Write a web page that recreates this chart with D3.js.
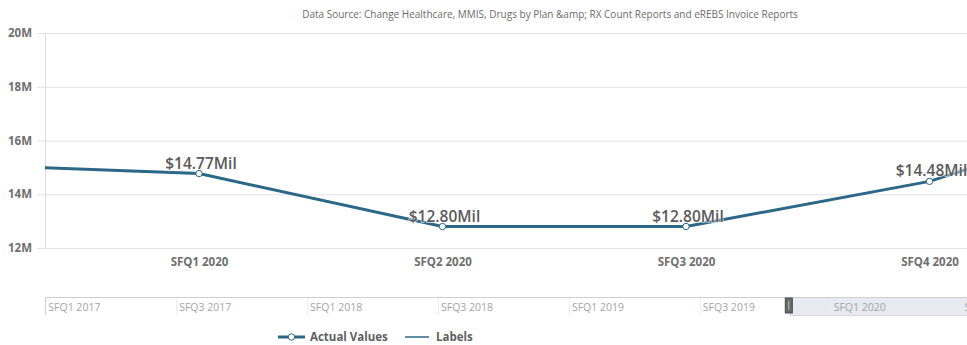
<!DOCTYPE html>
<html>
<head>
<meta charset="utf-8">
<script src="https://cdn.jsdelivr.net/npm/d3@7"></script>
<style>
  html, body { margin: 0; padding: 0; background: #fff; }
  svg { display: block; }
  text { font-family: "Open Sans", sans-serif; }
</style>
</head>
<body>
<svg id="chart" width="967" height="345"></svg>
<script>
// Quarterly spend, in millions of dollars
const quarters = ["SFQ4 2019", "SFQ1 2020", "SFQ2 2020", "SFQ3 2020", "SFQ4 2020", "SFQ1 2021"];
const quarterIndex = [11, 12, 13, 14, 15, 16];      // quarters since SFQ1 2017
const spend = [15.11, 14.77, 12.80, 12.80, 14.48, 17.40];
const labelled = [false, true, true, true, true, false];

const yTicks = [12, 14, 16, 18, 20];
const yTickLabels = ["12M", "14M", "16M", "18M", "20M"];
const xTickIndex = [12, 13, 14, 15];
const xTickLabels = ["SFQ1 2020", "SFQ2 2020", "SFQ3 2020", "SFQ4 2020"];

const navTickIndex = [0, 2, 4, 6, 8, 10, 12, 14];
const navTickLabels = ["SFQ1 2017", "SFQ3 2017", "SFQ1 2018", "SFQ3 2018", "SFQ1 2019", "SFQ3 2019", "SFQ1 2020", "SFQ3 2020"];

const title = "Data Source: Change Healthcare, MMIS, Drugs by Plan &amp; RX Count Reports and eREBS Invoice Reports";
const legendItems = ["Actual Values", "Labels"];

const lineColor = "#2b6786";
const W = 967, H = 345;
const plot = { left: 45, right: W, top: 33, bottom: 248 };

const svg = d3.select("#chart");

// scales
const x = d3.scaleLinear().domain([12, 15]).range([199, 929.5]);
const y = d3.scaleLinear().domain([12, 20]).range([plot.bottom, plot.top]);
const nav = { top: 297, bottom: 315, left: 45 };
const nx = d3.scaleLinear().domain([0, 12]).range([45.3, 830.7]);

// title
svg.append("text")
  .attr("x", 550).attr("y", 18)
  .attr("text-anchor", "middle")
  .attr("font-size", 10)
  .attr("fill", "#6b6b6b")
  .text(title);

// horizontal grid + y labels
const yAxis = d3.axisLeft(y).tickValues(yTicks)
  .tickFormat((d, i) => yTickLabels[i])
  .tickSize(-(plot.right - plot.left + 8)).tickPadding(5);
const gy = svg.append("g").attr("transform", `translate(${plot.left - 8},0)`).call(yAxis);
gy.select(".domain").remove();
gy.selectAll(".tick line").attr("stroke", "#e3e3e3").attr("stroke-width", 1);
gy.selectAll(".tick text")
  .attr("font-family", "Open Sans, sans-serif")
  .attr("font-size", 11.5).attr("font-weight", 700).attr("fill", "#6f6f6f");

// vertical axis line
svg.append("line")
  .attr("x1", plot.left + 0.5).attr("x2", plot.left + 0.5)
  .attr("y1", plot.top).attr("y2", plot.bottom)
  .attr("stroke", "#dcdcdc");

// x labels
const xAxis = d3.axisBottom(x).tickValues(xTickIndex)
  .tickFormat((d, i) => xTickLabels[i]).tickSize(0).tickPadding(10);
const gx = svg.append("g").attr("transform", `translate(0,${plot.bottom})`).call(xAxis);
gx.select(".domain").remove();
gx.selectAll(".tick text")
  .attr("font-family", "Open Sans, sans-serif")
  .attr("font-size", 11.5).attr("font-weight", 700).attr("fill", "#6f6f6f");

// clip for plot area
svg.append("clipPath").attr("id", "plotClip")
  .append("rect").attr("x", plot.left).attr("y", 0)
  .attr("width", plot.right - plot.left).attr("height", plot.bottom + 10);

const pts = quarters.map((q, i) => ({ q, i: quarterIndex[i], v: spend[i], lab: labelled[i] }));

const line = d3.line().x(d => x(d.i)).y(d => y(d.v));
const gPlot = svg.append("g").attr("clip-path", "url(#plotClip)");
gPlot.append("path").datum(pts)
  .attr("d", line).attr("fill", "none")
  .attr("stroke", lineColor).attr("stroke-width", 3)
  .attr("stroke-linejoin", "round");

gPlot.selectAll("circle.pt").data(pts).join("circle")
  .attr("class", "pt")
  .attr("cx", d => x(d.i)).attr("cy", d => y(d.v)).attr("r", 3.2)
  .attr("fill", "#fff").attr("stroke", lineColor).attr("stroke-width", 1);

// data labels
const fmt = v => "$" + v.toFixed(2) + "Mil";
svg.append("g").selectAll("text").data(pts.filter(d => d.lab)).join("text")
  .attr("x", d => x(d.i) + 2).attr("y", d => y(d.v) - 5)
  .attr("text-anchor", "middle")
  .attr("font-size", 15.5).attr("font-weight", 600)
  .attr("fill", "#5a5a5a")
  .attr("stroke", "#fff").attr("stroke-width", 2).attr("stroke-opacity", 0.6)
  .attr("paint-order", "stroke")
  .text(d => fmt(d.v));

// navigator
const gNav = svg.append("g");
const winStart = nx(x.invert(plot.left));
gNav.append("rect")
  .attr("x", winStart).attr("y", nav.top)
  .attr("width", W - winStart).attr("height", nav.bottom - nav.top)
  .attr("fill", "#e7ebf1");
gNav.selectAll("line.nt").data(navTickIndex.slice(1).concat([16])).join("line")
  .attr("class", "nt")
  .attr("x1", d => nx(d) + 0.5).attr("x2", d => nx(d) + 0.5)
  .attr("y1", nav.top).attr("y2", nav.bottom)
  .attr("stroke", "#ececec");
gNav.append("path")
  .attr("d", `M${nav.left + 0.5},${nav.bottom} V${nav.top + 0.5} H${W}`)
  .attr("fill", "none").attr("stroke", "#cfcfcf");
gNav.append("line")
  .attr("x1", winStart).attr("x2", W)
  .attr("y1", nav.bottom + 0.5).attr("y2", nav.bottom + 0.5)
  .attr("stroke", "#d5d8de");
gNav.selectAll("text").data(navTickIndex).join("text")
  .attr("x", d => nx(d) + 3).attr("y", 311)
  .attr("font-size", 10.5).attr("fill", "#a5a5a5")
  .text((d, i) => navTickLabels[i]);
// handle
gNav.append("rect")
  .attr("x", winStart - 4).attr("y", nav.top + 1)
  .attr("width", 7).attr("height", 15)
  .attr("fill", "#6a6a6a").attr("stroke", "#4a4a4a");
gNav.append("line")
  .attr("x1", winStart - 0.5).attr("x2", winStart - 0.5)
  .attr("y1", nav.top + 4).attr("y2", nav.top + 13)
  .attr("stroke", "#bdbdbd").attr("stroke-width", 1);

// legend
const gLeg = svg.append("g").attr("transform", "translate(0,337)");
gLeg.append("line").attr("x1", 278).attr("x2", 305).attr("y1", 0).attr("y2", 0)
  .attr("stroke", lineColor).attr("stroke-width", 3);
gLeg.append("circle").attr("cx", 291.5).attr("cy", 0).attr("r", 3.2)
  .attr("fill", "#fff").attr("stroke", lineColor);
gLeg.append("line").attr("x1", 405).attr("x2", 429).attr("y1", 0).attr("y2", 0)
  .attr("stroke", lineColor).attr("stroke-width", 1.5);
gLeg.selectAll("text").data(legendItems).join("text")
  .attr("x", (d, i) => [310, 436][i]).attr("y", 4)
  .attr("font-size", 11.5).attr("font-weight", 700).attr("fill", "#5f5f5f")
  .text(d => d);
</script>
</body>
</html>
